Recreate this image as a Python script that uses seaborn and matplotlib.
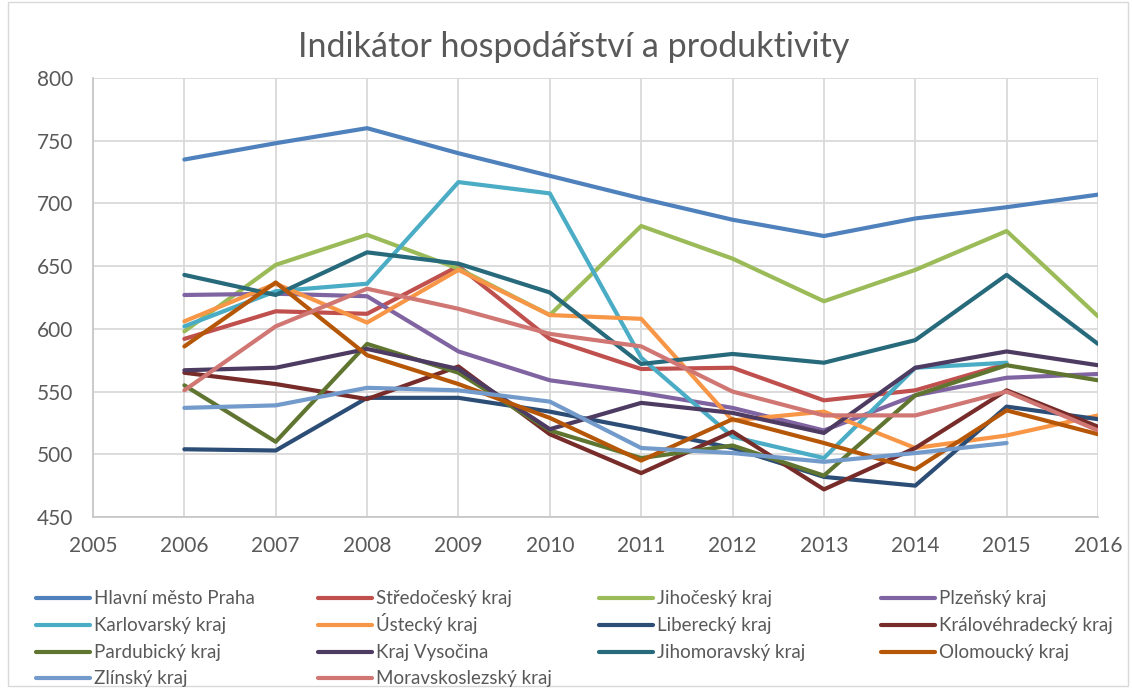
import numpy as np
import pandas as pd
import matplotlib
matplotlib.use("Agg")
import matplotlib.pyplot as plt
from matplotlib.lines import Line2D
from matplotlib.patches import Rectangle
import seaborn as sns

years = [2006, 2007, 2008, 2009, 2010, 2011, 2012, 2013, 2014, 2015, 2016]
nan = np.nan

regions = ["Hlavní město Praha", "Středočeský kraj", "Jihočeský kraj", "Plzeňský kraj",
           "Karlovarský kraj", "Ústecký kraj", "Liberecký kraj", "Královéhradecký kraj",
           "Pardubický kraj", "Kraj Vysočina", "Jihomoravský kraj", "Olomoucký kraj",
           "Zlínský kraj", "Moravskoslezský kraj"]

praha = [735, 748, 760, 740, 722, 704, 687, 674, 688, 697, 707]
stredocesky = [592, 614, 612, 650, 592, 568, 569, 543, 551, 572, nan]
jihocesky = [598, 651, 675, 648, 611, 682, 656, 622, 647, 678, 610]
plzensky = [627, 628, 626, 582, 559, 549, 537, 519, 547, 561, 564]
karlovarsky = [602, 630, 636, 717, 708, 577, 514, 497, 569, 573, nan]
ustecky = [606, 636, 605, 647, 611, 608, 527, 534, 505, 515, 531]
liberecky = [504, 503, 545, 545, 534, 520, 505, 482, 475, 538, 528]
kralovehradecky = [565, 556, 544, 570, 516, 485, 518, 472, 505, 551, 522]
pardubicky = [555, 510, 588, 565, 519, 497, 507, 483, 547, 571, 559]
vysocina = [567, 569, 584, 568, 520, 541, 533, 517, 569, 582, 571]
jihomoravsky = [643, 627, 661, 652, 629, 572, 580, 573, 591, 643, 588]
olomoucky = [586, 637, 579, 556, 529, 495, 528, 509, 488, 535, 516]
zlinsky = [537, 539, 553, 551, 542, 505, 501, 494, 501, 509, nan]
moravskoslezsky = [551, 602, 632, 616, 596, 586, 550, 531, 531, 550, 519]

series = [praha, stredocesky, jihocesky, plzensky, karlovarsky, ustecky, liberecky,
          kralovehradecky, pardubicky, vysocina, jihomoravsky, olomoucky, zlinsky,
          moravskoslezsky]

colors = ["#4F81BD", "#C0504D", "#9BBB59", "#8064A2", "#4BACC6", "#F79646", "#2C4D75",
          "#772C2A", "#5F7530", "#4D3B62", "#276A7C", "#B65708", "#729ACA", "#D07673"]

rows = []
for name, vals in zip(regions, series):
    for y, v in zip(years, vals):
        rows.append({"rok": y, "kraj": name, "hodnota": v})
df = pd.DataFrame(rows).dropna()

sns.set_style("white")
plt.rcParams["font.family"] = ["Lato", "DejaVu Sans"]

grey_txt = "#595959"
grid_c = "#D9D9D9"
W, H = 1132, 688

fig = plt.figure(figsize=(W / 100, H / 100), dpi=100)
ax = fig.add_axes([93 / W, 1 - 517 / H, (1098 - 93) / W, (517 - 78) / H])

sns.lineplot(data=df, x="rok", y="hodnota", hue="kraj", hue_order=regions,
             palette=colors, linewidth=3, estimator=None, sort=True, legend=False, ax=ax)

ax.set_xlim(2005, 2016)
ax.set_ylim(450, 800)
ax.set_xticks(range(2005, 2017))
ax.set_yticks(range(450, 801, 50))
ax.grid(True, color=grid_c, linewidth=1.3)
ax.set_axisbelow(True)
for s in ["top", "right"]:
    ax.spines[s].set_visible(False)
for s in ["left", "bottom"]:
    ax.spines[s].set_color("#C8C8C8")
    ax.spines[s].set_linewidth(1.3)
ax.tick_params(length=0, labelsize=15, labelcolor=grey_txt, pad=14)
ax.set_xlabel("")
ax.set_ylabel("")

fig.text(574 / W, 1 - 47 / H, "Indikátor hospodářství a produktivity",
         ha="center", va="center", fontsize=24.5, color=grey_txt)

# legend drawn slot by slot so the rows line up, read row-wise in 4 columns
col_x = [36, 318, 599, 881]
row_y = [598, 625, 652, 678]
for i, (name, c) in enumerate(zip(regions, colors)):
    r, k = divmod(i, 4)
    x0, yc = col_x[k], row_y[r]
    fig.add_artist(Line2D([x0 / W, (x0 + 54) / W], [1 - yc / H, 1 - yc / H],
                          transform=fig.transFigure, color=c, lw=3))
    fig.text((x0 + 58) / W, 1 - (yc + 6) / H, name, ha="left", va="baseline",
             fontsize=13.5, color=grey_txt)

fig.patches.append(Rectangle((8 / W, 2 / H), 1120 / W, 684 / H,
                             transform=fig.transFigure, fill=False,
                             edgecolor=grid_c, linewidth=1))

fig.savefig("out.png", dpi=100)
